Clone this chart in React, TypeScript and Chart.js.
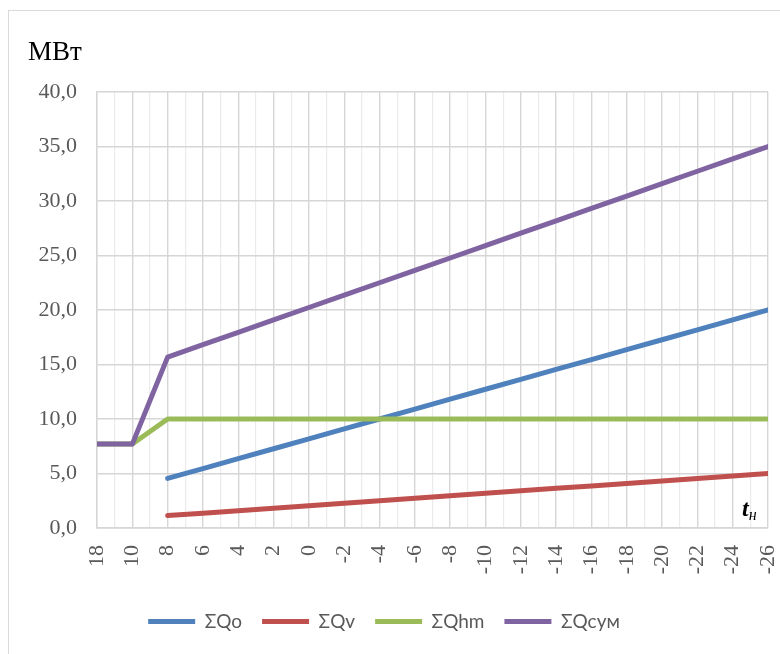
import React, { useEffect, useRef } from "react";
import { Chart, registerables } from "chart.js";

Chart.register(...registerables);

const categories = ["18", "10", "8", "6", "4", "2", "0", "-2", "-4", "-6", "-8", "-10", "-12", "-14", "-16", "-18", "-20", "-22", "-24", "-26"];
const qo = [null, null, 4.55, 5.45, 6.36, 7.27, 8.18, 9.09, 10.0, 10.91, 11.82, 12.73, 13.64, 14.55, 15.45, 16.36, 17.27, 18.18, 19.09, 20.0];
const qv = [null, null, 1.14, 1.36, 1.59, 1.82, 2.05, 2.27, 2.5, 2.73, 2.95, 3.18, 3.41, 3.64, 3.86, 4.09, 4.32, 4.55, 4.77, 5.0];
const qhm = [7.7, 7.7, 10, 10, 10, 10, 10, 10, 10, 10, 10, 10, 10, 10, 10, 10, 10, 10, 10, 10];
const qsum = [7.7, 7.7, 15.68, 16.82, 17.95, 19.09, 20.23, 21.36, 22.5, 23.64, 24.77, 25.91, 27.05, 28.18, 29.32, 30.45, 31.59, 32.73, 33.86, 35.0];
const seriesNames = ["ΣQo", "ΣQv", "ΣQhm", "ΣQcум"];
const seriesColors = ["#4F81BD", "#C0504D", "#9BBB59", "#8064A2"];
const yTitle = "МВт";
const xTitle = "t";
const xTitleSub = "н";

const MAJOR = "#d6d6d6";
const MINOR = "#ebebeb";

const textPlugin = {
  id: "extraText",
  afterDraw(chart: any) {
    const { ctx, chartArea } = chart;
    ctx.save();
    ctx.fillStyle = "#000";
    ctx.textBaseline = "alphabetic";
    ctx.textAlign = "left";
    ctx.font = "27px 'Liberation Serif'";
    ctx.fillText(yTitle, 28, 60);
    ctx.font = "italic bold 24px 'Liberation Serif'";
    const tx = chartArea.right - 26;
    const ty = chartArea.bottom - 12;
    ctx.fillText(xTitle, tx, ty);
    const w = ctx.measureText(xTitle).width;
    ctx.font = "italic 16px 'Liberation Serif'";
    ctx.fillText(xTitleSub, tx + w, ty + 4);
    ctx.restore();
  },
};

export default function App() {
  const ref = useRef<HTMLCanvasElement>(null);
  useEffect(() => {
    if (!ref.current) return;
    const toPts = (arr: (number | null)[]) => arr.map((y, i) => ({ x: i, y }));
    const all = [qo, qv, qhm, qsum];
    const chart = new Chart(ref.current, {
      type: "line",
      data: {
        datasets: all.map((arr, i) => ({
          label: seriesNames[i],
          data: toPts(arr) as any,
          borderColor: seriesColors[i],
          backgroundColor: seriesColors[i],
          borderWidth: 5,
          pointRadius: 0,
          tension: 0,
          fill: false,
          borderCapStyle: "round",
          borderJoinStyle: "round",
          order: 4 - i,
        })),
      },
      options: {
        animation: false,
        responsive: false,
        maintainAspectRatio: false,
        layout: { padding: { left: 0, right: 12, top: 92, bottom: 13 } },
        plugins: {
          tooltip: { enabled: false },
          legend: {
            position: "bottom",
            labels: {
              usePointStyle: true,
              pointStyle: "line",
              pointStyleWidth: 47,
              color: "#595959",
              font: { family: "Lato", size: 19 },
              padding: 20,
              sort: (a: any, b: any) => a.datasetIndex - b.datasetIndex,
            },
          },
        },
        scales: {
          x: {
            type: "linear",
            min: 0,
            max: categories.length - 1,
            afterFit: (s: any) => {
              s.height = 64;
              s.paddingLeft = 0;
              s.paddingRight = 0;
            },
            ticks: {
              stepSize: 0.5,
              autoSkip: false,
              maxRotation: 90,
              minRotation: 90,
              padding: 17,
              color: "#595959",
              font: { family: "Liberation Serif", size: 22 },
              callback: (v: any) => (Number.isInteger(v) ? categories[v] : ""),
            },
            grid: {
              color: (c: any) => (Number.isInteger(c.tick?.value) ? MAJOR : MINOR),
              lineWidth: (c: any) => (Number.isInteger(c.tick?.value) ? 1.4 : 1.2),
              drawTicks: false,
            },
            border: { color: MAJOR, width: 1.4 },
          },
          y: {
            min: 0,
            max: 40,
            afterFit: (s: any) => {
              s.width = 97;
            },
            ticks: {
              stepSize: 5,
              padding: 20,
              color: "#595959",
              font: { family: "Liberation Serif", size: 22 },
              callback: (v: any) => Number(v).toFixed(1).replace(".", ","),
            },
            grid: { color: MAJOR, lineWidth: 1.4, drawTicks: false },
            border: { color: MAJOR, width: 1.4 },
          },
        },
      },
      plugins: [textPlugin],
    });
    return () => chart.destroy();
  }, []);

  return (
    <div style={{ position: "fixed", left: 0, top: 0, width: 780, height: 654, overflow: "hidden", background: "#fff" }}>
      <div
        style={{
          position: "absolute",
          left: 8,
          top: 10,
          width: 900,
          height: 900,
          borderLeft: "1px solid #d9d9d9",
          borderTop: "1px solid #d9d9d9",
        }}
      />
      <canvas ref={ref} width={780} height={654} style={{ position: "absolute", left: 0, top: 0, width: 780, height: 654 }} />
    </div>
  );
}
